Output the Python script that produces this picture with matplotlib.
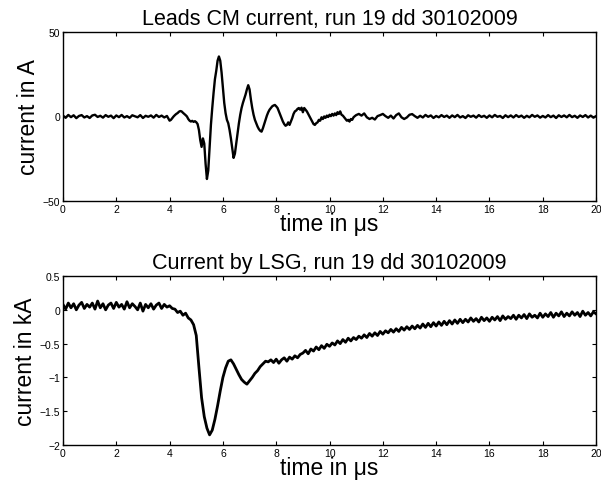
import matplotlib
matplotlib.use('Agg')
import matplotlib.pyplot as plt
import numpy as np

plt.rcParams['font.family'] = ['Liberation Sans', 'DejaVu Sans']

# Leads CM current (A)
t_cm_a = np.round(np.arange(0.0, 3.95, 0.1), 2)
i_cm_a = [0.5, -0.8, 0.9, -0.4, 0.7, -1.0, 0.3, 0.8, -0.6, 0.2,
          -0.9, 0.6, 1.0, -0.3, 0.4, -0.7, 0.8, -0.2, 0.5, -1.0,
          0.6, -0.4, 0.9, -0.6, 0.2, -0.8, 0.7, 0.1, -0.5, 0.8,
          -0.9, 0.4, -0.2, 0.6, -0.7, 0.9, -0.3, 0.5, -0.6, 0.3]
t_cm_b = np.round(np.arange(4.0, 11.025, 0.05), 2)
i_cm_b = [-2.5, -2.0, -1.0, 0.0, 0.8, 1.5, 2.0, 2.8, 3.2, 3.0,
          2.2, 1.5, 0.8, 0.0, -1.5, -2.5, -3.0, -2.6, -3.2, -2.8,
          -3.4, -4.5, -8.0, -14.0, -18.0, -13.0, -16.0, -28.0, -37.0, -32.0,
          -18.0, -5.0, 5.0, 14.0, 22.0, 27.0, 33.0, 35.5, 33.0, 26.0,
          17.0, 8.0, 2.0, -2.0, -4.0, -8.0, -13.0, -19.0, -24.5, -22.0,
          -16.0, -10.0, -4.0, 1.0, 5.0, 8.0, 10.5, 13.0, 16.0, 18.5,
          16.0, 10.0, 5.0, 1.0, -2.0, -4.0, -6.0, -7.5, -8.5, -9.0,
          -7.0, -4.5, -2.0, 0.5, 2.5, 4.0, 5.0, 6.0, 6.5, 6.8,
          6.0, 5.0, 3.0, 1.0, -1.0, -3.0, -4.5, -5.5, -5.0, -3.5,
          -5.0, -3.0, -1.0, 1.5, 3.0, 3.5, 4.5, 5.0, 4.0, 5.2,
          2.5, 5.0, 4.0, 3.0, 1.5, 0.0, -1.5, -3.0, -4.5, -5.0,
          -4.0, -3.5, -2.0, -2.5, -0.5, -1.5, 0.0, -0.8, 0.5, -0.3,
          1.0, 0.2, 1.5, 0.5, 1.8, 0.8, 2.5, 1.5, 3.0, 1.0,
          0.5, -0.5, -1.5, -2.5, -2.0, -3.0, -1.5, -2.0, -0.5, 0.2,
          0.8]
t_cm_c = np.round(np.arange(11.1, 20.05, 0.1), 2)
i_cm_c = [1.5, 0.5, 1.8, -0.5, -1.5, -0.8, -1.8, 0.2, 0.8, 1.5,
          0.2, -0.8, 0.5, -1.2, 0.8, 1.8, -0.5, -1.5, -0.6, 1.0,
          1.4, 0.2, -0.8, 0.4, -0.6, 0.9, -0.2, 0.6, -0.9, 0.3,
          -0.5, 0.8, -0.3, 0.5, -0.8, 0.6, -0.4, 0.9, -0.6, 0.2,
          -0.9, 0.7, -0.2, 0.5, -0.7, 0.8, -0.3, 0.4, -0.8, 0.6,
          -0.5, 0.9, -0.2, 0.3, -0.9, 0.7, -0.4, 0.6, -0.6, 0.8,
          -0.3, 0.5, -0.8, 0.4, -0.5, 0.9, -0.2, 0.6, -0.7, 0.3,
          -0.6, 0.8, -0.4, 0.5, -0.9, 0.7, -0.3, 0.6, -0.5, 0.9,
          -0.4, 0.4, -0.8, 0.6, -0.3, 0.8, -0.6, 0.5, -0.7, 0.2]
t_cm = np.concatenate([t_cm_a, t_cm_b, t_cm_c])
i_cm = np.concatenate([i_cm_a, i_cm_b, i_cm_c])

# Current by LSG (kA), sampled every 0.1 us
t_lsg = np.round(np.arange(0.0, 20.05, 0.1), 2)
i_lsg = [0.08, 0.01, 0.10, 0.03, 0.09, 0.00, 0.07, 0.11, 0.02, 0.08,
         0.04, 0.10, 0.01, 0.13, 0.03, 0.09, 0.00, 0.07, 0.10, 0.02,
         0.11, 0.04, 0.08, 0.01, 0.12, 0.03, 0.09, 0.05, 0.00, 0.10,
         -0.02, 0.08, 0.03, 0.09, 0.01, 0.07, 0.10, 0.02, 0.08, 0.04,
         0.06, 0.02, 0.01, -0.04, -0.02, -0.08, -0.05, -0.12, -0.15, -0.22,
         -0.38, -0.85, -1.30, -1.58, -1.75, -1.85, -1.78, -1.62, -1.42, -1.20,
         -1.00, -0.86, -0.76, -0.74, -0.80, -0.88, -0.96, -1.03, -1.07, -1.10,
         -1.05, -1.00, -0.94, -0.90, -0.84, -0.80, -0.76, -0.77, -0.74, -0.78,
         -0.73, -0.79, -0.74, -0.71, -0.76, -0.70, -0.73, -0.68, -0.71, -0.66,
         -0.64, -0.60, -0.65, -0.58, -0.61, -0.55, -0.59, -0.53, -0.57, -0.51,
         -0.54, -0.49, -0.52, -0.46, -0.50, -0.44, -0.48, -0.42, -0.46, -0.41,
         -0.44, -0.39, -0.42, -0.37, -0.41, -0.35, -0.39, -0.34, -0.38, -0.32,
         -0.36, -0.31, -0.34, -0.29, -0.33, -0.28, -0.32, -0.26, -0.30, -0.25,
         -0.29, -0.24, -0.28, -0.23, -0.27, -0.21, -0.26, -0.20, -0.25, -0.19,
         -0.24, -0.18, -0.23, -0.17, -0.22, -0.16, -0.21, -0.15, -0.20, -0.14,
         -0.19, -0.14, -0.18, -0.12, -0.17, -0.13, -0.18, -0.11, -0.16, -0.12,
         -0.17, -0.11, -0.15, -0.10, -0.16, -0.09, -0.14, -0.10, -0.13, -0.08,
         -0.14, -0.08, -0.12, -0.07, -0.13, -0.06, -0.11, -0.08, -0.12, -0.05,
         -0.11, -0.06, -0.10, -0.04, -0.11, -0.05, -0.09, -0.03, -0.10, -0.05,
         -0.09, -0.03, -0.08, -0.04, -0.10, -0.02, -0.08, -0.04, -0.09, -0.03,
         -0.06]

x_ticks = [0, 2, 4, 6, 8, 10, 12, 14, 16, 18, 20]

fig = plt.figure(figsize=(6.01, 4.89), dpi=100)
ax1 = fig.add_axes([0.1048, 0.587, 0.887, 0.3456])
ax2 = fig.add_axes([0.1048, 0.0879, 0.887, 0.3456])

panels = [
    (ax1, t_cm, i_cm, 'Leads CM current, run 19 dd 30102009', 'current in A',
     (-50, 50), [-50, 0, 50], ['\u221250', '0', '50'], 1.7),
    (ax2, t_lsg, i_lsg, 'Current by LSG, run 19 dd 30102009', 'current in kA',
     (-2, 0.5), [-2, -1.5, -1, -0.5, 0, 0.5],
     ['\u22122', '\u22121.5', '\u22121', '\u22120.5', '0', '0.5'], 2.0),
]

for ax, t, y, title, ylabel, ylim, yt, ytl, lw in panels:
    ax.plot(t, y, color='black', linewidth=lw)
    ax.set_xlim(0, 20)
    ax.set_ylim(*ylim)
    ax.set_xticks(x_ticks)
    ax.set_yticks(yt)
    ax.set_yticklabels(ytl)
    ax.tick_params(direction='in', top=True, right=True, labelsize=7.5,
                   length=3, pad=2)
    ax.set_title(title, fontsize=15.5, pad=6)
    ax.set_xlabel('time in \u03bcs', fontsize=16.5, labelpad=-1)
    ax.set_ylabel(ylabel, fontsize=16.5, labelpad=2)
    for s in ax.spines.values():
        s.set_linewidth(1.0)

fig.savefig('out.png', dpi=100)
